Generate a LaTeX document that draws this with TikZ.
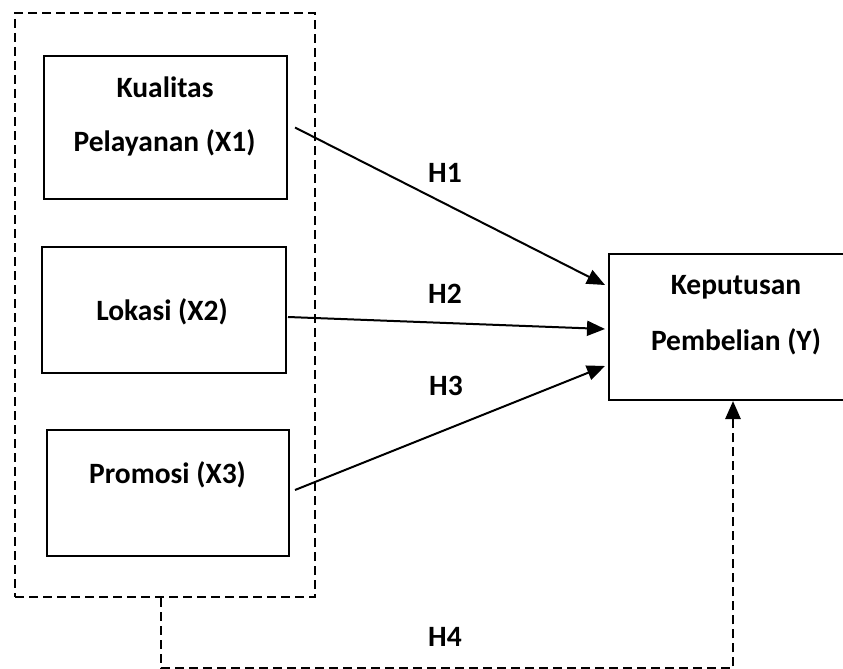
\documentclass[tikz,border=0pt]{standalone}
\usepackage{fontspec}
\setmainfont{Carlito}
\usetikzlibrary{arrows.meta,calc}
\begin{document}
\begin{tikzpicture}[x=1pt,y=-1pt,
  box/.style={draw,line width=2pt,rectangle,inner sep=0pt},
  lbl/.style={font=\fontsize{29.5}{34}\selectfont\bfseries,inner sep=0pt},
  dline/.style={line width=2.8pt,dash pattern=on 9pt off 5pt},
  tip/.style={-{Triangle[length=18pt,width=15pt]}},
  arr/.style={line width=2pt,tip}]
\useasboundingbox (0,0) rectangle (843,669);
\clip (0,0) rectangle (843,669);
\fill[white] (0,0) rectangle (843,669);
% group box
\node[draw,dline,minimum width=300pt,minimum height=584pt,inner sep=0pt] (grp) at (165,305) {};
% boxes
\node[box,minimum width=243pt,minimum height=143pt] (X1) at (165.5,127.5) {};
\node[box,minimum width=244pt,minimum height=126pt] (X2) at (164,310) {};
\node[box,minimum width=242pt,minimum height=126pt] (X3) at (168,493) {};
\node[box,minimum width=248pt,minimum height=146pt] (Y) at (733,327) {};
% texts
\node[lbl] (t1a) at (165,87) {Kualitas};
\node[lbl] (t1b) at (164.5,143) {Pelayanan (X1)};
\node[lbl] (t2) at (162,312) {Lokasi (X2)};
\node[lbl] (t3) at (167.5,475) {Promosi (X3)};
\node[lbl] (tya) at (736,287) {Keputusan};
\node[lbl] (tyb) at (736,342) {Pembelian (Y)};
\node[lbl] (h1) at (445,173) {H1};
\node[lbl] (h2) at (445,294) {H2};
\node[lbl] (h3) at (446,386) {H3};
\node[lbl] (h4) at (445,637) {H4};
% arrows
\draw[arr] ($(X1.east)+(7,0)$) -- ($(Y.west)+(-3,-42)$);
\draw[arr] ($(X2.east)+(1,7)$) -- ($(Y.west)+(-3,2)$);
\draw[arr] ($(X3.east)+(5,-3)$) -- ($(Y.west)+(-3,39)$);
\coordinate (c4) at ($(grp.south)+(-4,70)$);
\draw[dline,tip] ($(grp.south)+(-4,0)$) -- (c4) -| (Y.south);
\end{tikzpicture}
\end{document}
